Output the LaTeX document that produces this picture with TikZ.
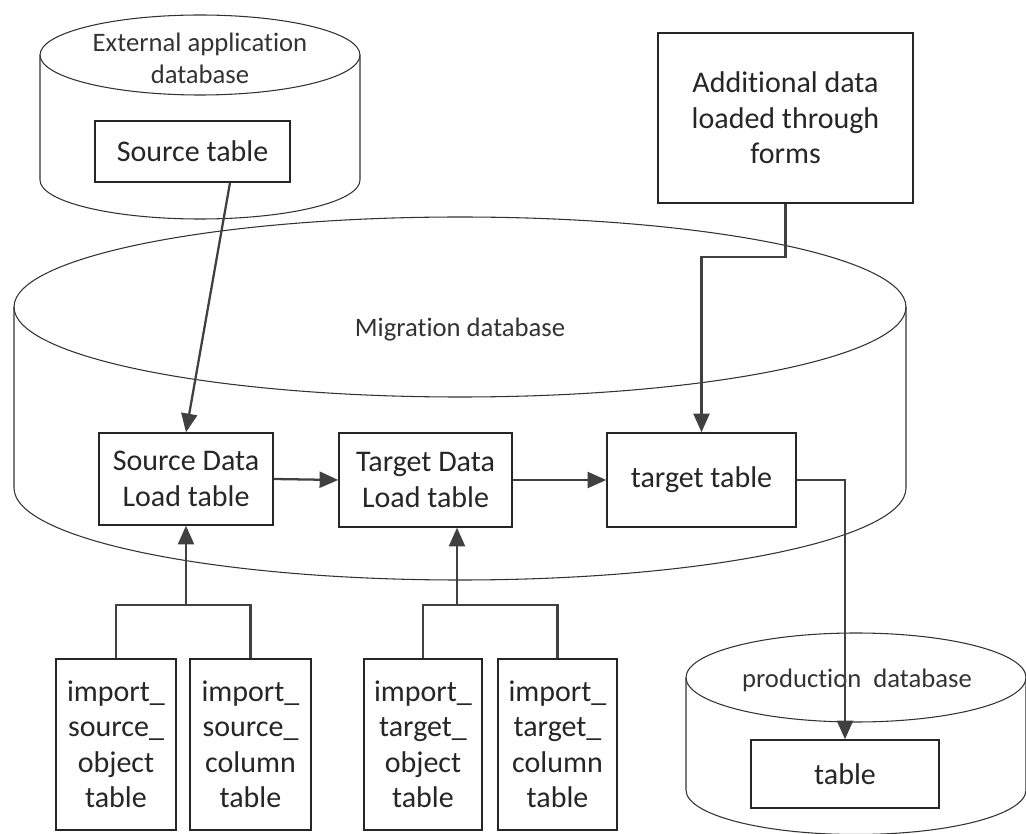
\documentclass[tikz,border=0pt]{standalone}
\usepackage{fontspec}
\setmainfont{Carlito}[Ligatures=NoCommon]
\usetikzlibrary{arrows.meta,calc}
\begin{document}
\begin{tikzpicture}[x=0.75pt,y=0.75pt,
  box/.style={draw=black!85, line width=1.1pt, align=center, inner sep=0pt,
    font=\fontsize{22.5}{26.6}\selectfont, text=black!85},
  cyl/.style={draw=black!80, line width=0.8pt},
  dblabel/.style={align=center, inner sep=0pt, font=\fontsize{20}{24}\selectfont, text=black!80},
  arr/.style={draw=black!75, line width=1.7pt, -{Triangle[length=14pt,width=12pt]}},
  conn/.style={draw=black!75, line width=1.7pt}]
\useasboundingbox (0,0) rectangle (1026,-834);
\begin{scope}
\clip (0,0) rectangle (1026,-834);
% external application database cylinder
\draw[cyl] (200,-55) ellipse[x radius=160,y radius=40];
\draw[cyl] (40,-55) -- (40,-180) arc[start angle=180,end angle=360,x radius=160,y radius=39] -- (360,-55);
% migration database cylinder
\draw[cyl] (460,-307) ellipse[x radius=446,y radius=90];
\draw[cyl] (14,-307) -- (14,-488) arc[start angle=180,end angle=360,x radius=446,y radius=92] -- (906,-307);
% production database cylinder
\draw[cyl] (856,-677.5) ellipse[x radius=170,y radius=44.5];
\draw[cyl] (686,-677.5) -- (686,-790) arc[start angle=180,end angle=360,x radius=170,y radius=44.5] -- (1026,-677.5);
\end{scope}

% database labels
\node[dblabel] (extlbl) at (200,-58) {External application\\database};
\node[dblabel] (miglbl) at (460,-330) {Migration database};
\node[dblabel] (prodlbl) at (857,-680) {production\ \ database};

% boxes
\node[box, minimum width=195*0.75pt, minimum height=61*0.75pt] (src) at (192.5,-151.5) {Source table};
\node[box, minimum width=255*0.75pt, minimum height=170*0.75pt] (add) at (785.5,-118) {Additional data\\loaded through\\forms};
\node[box, minimum width=174*0.75pt, minimum height=92*0.75pt] (sdl) at (186,-479) {Source Data\\Load table};
\node[box, minimum width=173*0.75pt, minimum height=94*0.75pt] (tdl) at (425.5,-480) {Target Data\\Load table};
\node[box, minimum width=189*0.75pt, minimum height=94*0.75pt] (tt) at (701.5,-480) {target table};
\node[box, minimum width=188*0.75pt, minimum height=68*0.75pt] (tbl) at (845,-774) {table};
\node[box, minimum width=120*0.75pt, minimum height=171*0.75pt] (i1) at (116,-744.5) {import\_\\source\_\\object\\table};
\node[box, minimum width=121*0.75pt, minimum height=171*0.75pt] (i2) at (250.5,-744.5) {import\_\\source\_\\column\\table};
\node[box, minimum width=118*0.75pt, minimum height=171*0.75pt] (i3) at (423,-744.5) {import\_\\target\_\\object\\table};
\node[box, minimum width=119*0.75pt, minimum height=171*0.75pt] (i4) at (557.5,-744.5) {import\_\\target\_\\column\\table};

% connectors
\coordinate (srcout) at ($(src.south)+(37.5,0)$);
\draw[arr] (srcout) -- (sdl.north);
\draw[arr] (add.south) -- ++(0,-53) -| (tt.north);
\draw[arr] (sdl.east) -- (tdl.west);
\draw[arr] (tdl.east) -- (tt.west);
\draw[arr] (tt.east) -| (tbl.north);
\coordinate (j1) at (186,-605);
\coordinate (j2) at (457,-605);
\draw[conn] (i1.north) |- (j1) -| (i2.north);
\draw[arr] (j1) -- (sdl.south);
\draw[conn] (i3.north) |- (j2) -| (i4.north);
\draw[arr] (j2) -- (j2 |- tdl.south);
\end{tikzpicture}
\end{document}
